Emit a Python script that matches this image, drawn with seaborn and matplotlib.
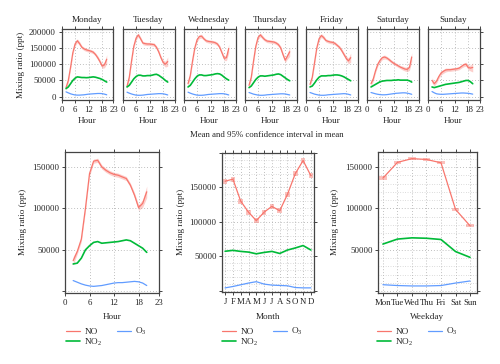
import numpy as np
import pandas as pd
import matplotlib
matplotlib.use("Agg")
import matplotlib.pyplot as plt
import seaborn as sns
from matplotlib.lines import Line2D
from matplotlib.ticker import MultipleLocator

# ---------------- data ----------------
hours = list(range(2, 21))
day_names = ["Monday", "Tuesday", "Wednesday", "Thursday", "Friday", "Saturday", "Sunday"]

no_mon = [28000, 50000, 90000, 135000, 162000, 172000, 163000, 152000, 147000, 144000, 142000, 140000, 137000, 130000, 120000, 108000, 94000, 98000, 115000]
no_tue = [32000, 60000, 110000, 155000, 180000, 190000, 178000, 165000, 163000, 162000, 162000, 161000, 160000, 152000, 138000, 120000, 105000, 100000, 108000]
no_wed = [40000, 65000, 110000, 150000, 175000, 185000, 186000, 178000, 172000, 170000, 169000, 168000, 166000, 162000, 152000, 135000, 118000, 120000, 148000]
no_thu = [35000, 60000, 110000, 155000, 182000, 190000, 182000, 175000, 171000, 170000, 169000, 168000, 165000, 160000, 150000, 130000, 112000, 125000, 138000]
no_fri = [38000, 60000, 105000, 150000, 178000, 188000, 182000, 173000, 170000, 168000, 167000, 164000, 158000, 152000, 142000, 130000, 118000, 110000, 120000]
no_sat = [40000, 55000, 80000, 100000, 112000, 120000, 122000, 119000, 114000, 108000, 103000, 99000, 95000, 91000, 88000, 85000, 84000, 90000, 122000]
no_sun = [50000, 40000, 48000, 62000, 73000, 78000, 82000, 83000, 83000, 84000, 85000, 86000, 88000, 93000, 98000, 100000, 90000, 88000, 90000]

no2_mon = [25000, 30000, 40000, 50000, 57000, 61000, 60000, 59000, 59000, 58500, 59000, 60000, 61000, 60000, 58000, 56000, 53000, 49000, 45000]
no2_tue = [30000, 35000, 45000, 55000, 62000, 66000, 66000, 64000, 64000, 65000, 65000, 66000, 68000, 69000, 66000, 61000, 56000, 50000, 45000]
no2_wed = [30000, 35000, 45000, 55000, 63000, 67000, 67000, 65000, 65000, 66000, 67000, 68000, 70000, 71000, 70000, 66000, 60000, 55000, 51000]
no2_thu = [28000, 33000, 43000, 53000, 60000, 64000, 64000, 63000, 64000, 65000, 66000, 67000, 69000, 70000, 68000, 63000, 58000, 53000, 49000]
no2_fri = [30000, 33000, 42000, 52000, 60000, 64000, 64000, 64000, 65000, 65000, 66000, 67000, 67000, 66000, 64000, 61000, 57000, 53000, 49000]
no2_sat = [30000, 34000, 38000, 42000, 46000, 48000, 49000, 50000, 50000, 50000, 51000, 51000, 52000, 51000, 51000, 51000, 51000, 49000, 45000]
no2_sun = [30000, 28000, 30000, 32000, 34000, 36000, 38000, 39000, 40000, 41000, 42000, 43000, 44000, 46000, 48000, 50000, 50000, 46000, 40000]

o3_mon = [15000, 12000, 9000, 7000, 5500, 5000, 5000, 5500, 6000, 7000, 8000, 8500, 9000, 9500, 10000, 10000, 9500, 8000, 6000]
o3_tue = [14000, 11000, 8500, 6500, 5000, 4500, 4500, 5000, 6000, 7000, 7500, 8000, 8500, 9000, 9500, 9500, 9000, 7500, 5500]
o3_wed = [14000, 11000, 8500, 6500, 5000, 4500, 4500, 5000, 6000, 7000, 7500, 8000, 8500, 9000, 9500, 9500, 9000, 7500, 5500]
o3_thu = [13000, 10500, 8000, 6500, 5000, 4500, 4500, 5000, 6000, 6500, 7000, 7500, 8000, 8500, 9000, 9000, 8500, 7000, 5500]
o3_fri = [13000, 10500, 8000, 6500, 5000, 4500, 4500, 5000, 6000, 6500, 7000, 7500, 8000, 8500, 9000, 9500, 9000, 7500, 5500]
o3_sat = [13000, 11000, 9000, 7500, 6500, 6000, 6000, 6500, 7500, 8500, 9500, 10500, 11000, 11500, 12000, 12000, 11000, 9500, 7500]
o3_sun = [16000, 12000, 9000, 8000, 7500, 7500, 8000, 8500, 9000, 9500, 10000, 10500, 11000, 11500, 11500, 11000, 10500, 9500, 8000]

no_ci_day = [8000, 7000, 6000, 6000, 6000, 6000, 6000, 5000, 5000, 5000, 5000, 5000, 5000, 5000, 6000, 6000, 7000, 9000, 14000]

# overall diurnal
no_hour = [37000, 48000, 63000, 100000, 142000, 157000, 158000, 150000, 146000, 143000, 141000, 140000, 138000, 136000, 128000, 116000, 101000, 106000, 120000]
no2_hour = [33000, 34000, 40000, 50000, 55000, 59000, 60000, 58000, 58500, 59000, 59500, 60000, 61000, 62000, 61000, 58000, 55000, 52000, 47000]
o3_hour = [13000, 11000, 9000, 7500, 6500, 6000, 6500, 7000, 8000, 9000, 10000, 10500, 10500, 11000, 11500, 12000, 11500, 10000, 7000]
no_ci_hour = [5000, 3000, 3000, 3000, 3000, 2500, 2500, 2500, 2500, 2500, 2500, 2500, 2500, 2500, 2500, 3000, 3500, 4500, 7000]

# monthly
months = list(range(1, 13))
month_labels = ["J", "F", "M", "A", "M", "J", "J", "A", "S", "O", "N", "D"]
no_month = [159000, 162000, 130000, 114000, 101700, 114000, 122500, 116000, 140000, 170000, 189000, 167000]
no2_month = [57200, 58500, 57000, 56000, 53500, 55500, 57000, 54000, 59000, 62000, 65500, 59000]
o3_month = [4000, 6000, 8500, 11000, 13000, 9500, 8000, 7500, 7000, 4500, 4000, 4000]
no_ci_month = [3600] * 12

# weekday
weekdays = list(range(1, 8))
weekday_labels = ["Mon", "Tue", "Wed", "Thu", "Fri", "Sat", "Sun"]
no_week = [136500, 155500, 160000, 159000, 155000, 98800, 79000]
no2_week = [57000, 63000, 64500, 64000, 62500, 48000, 41000]
o3_week = [8000, 7000, 6500, 6500, 7000, 10000, 12500]
no_ci_week = [2000] * 7

species = ["NO", "NO$_2$", "O$_3$"]

# ---------------- style ----------------
sns.set_style("ticks")
plt.rcParams['font.family'] = ['Liberation Serif', 'DejaVu Serif']
plt.rcParams['mathtext.fontset'] = 'custom'
plt.rcParams['mathtext.rm'] = 'Liberation Serif'
plt.rcParams['mathtext.it'] = 'Liberation Serif:italic'

C_NO, C_NO2, C_O3 = "#F8766D", "#00BA38", "#619CFF"
colors = [C_NO, C_NO2, C_O3]
widths = [0.9, 1.2, 0.9]
FS = 6.3
SPINE = "#444444"

W, H = 500, 364
fig = plt.figure(figsize=(5.0, 3.64), dpi=100)
fig.patch.set_facecolor("white")


def rect(l, t, r, b):
    return [l / W, 1 - b / H, (r - l) / W, (b - t) / H]


def style_ax(ax):
    for s in ax.spines.values():
        s.set_color(SPINE)
        s.set_linewidth(0.9)
    ax.tick_params(direction="out", length=2.5, width=0.7, colors=SPINE,
                   labelcolor="#222222", labelsize=FS, pad=1.5)


def draw_lines(ax, x, series):
    for vals, c, lw in zip(series, colors, widths):
        df = pd.DataFrame({"x": x, "y": vals})
        sns.lineplot(data=df, x="x", y="y", color=c, linewidth=lw, ax=ax, legend=False)
    ax.set_xlabel("")
    ax.set_ylabel("")


# ---------------- top panels ----------------
day_no = [no_mon, no_tue, no_wed, no_thu, no_fri, no_sat, no_sun]
day_no2 = [no2_mon, no2_tue, no2_wed, no2_thu, no2_fri, no2_sat, no2_sun]
day_o3 = [o3_mon, o3_tue, o3_wed, o3_thu, o3_fri, o3_sat, o3_sun]
lefts = [61.5, 122.5, 183.5, 244.5, 305.5, 366.5, 427.5]
pw = 52
for i, name in enumerate(day_names):
    l = lefts[i]
    ax = fig.add_axes(rect(l, 29, l + pw, 100))
    lo = np.array(day_no[i]) - np.array(no_ci_day)
    hi = np.array(day_no[i]) + np.array(no_ci_day)
    ax.fill_between(hours, lo, hi, color=C_NO, alpha=0.35, lw=0)
    draw_lines(ax, hours, [day_no[i], day_no2[i], day_o3[i]])
    ax.set_xlim(0, 23)
    ax.set_ylim(-10000, 208000)
    ax.set_xticks([0, 6, 12, 18, 23])
    ax.set_yticks([0, 50000, 100000, 150000, 200000])
    ax.grid(True, ls=(0, (1, 2.5)), color="#aaaaaa", lw=0.6)
    style_ax(ax)
    ax.tick_params(top=True, labeltop=False, bottom=True)
    if i == 0:
        ax.tick_params(left=True, labelleft=True, right=False)
    elif i == 6:
        ax.tick_params(left=False, labelleft=False, right=True, labelright=False)
    else:
        ax.tick_params(left=False, labelleft=False, right=False)
    fig.text((l + pw / 2) / W, 1 - 20 / H, name, ha="center", va="center", fontsize=6.6)
    fig.text((l + pw / 2) / W, 1 - 121 / H, "Hour", ha="center", va="center", fontsize=6.6)

fig.text(21 / W, 1 - 65 / H, "Mixing ratio (ppt)", rotation=90, ha="center", va="center", fontsize=6.6)
fig.text(267 / W, 1 - 135 / H, "Mean and 95% confidence interval in mean", ha="center", va="center", fontsize=6.3)

# ---------------- bottom panels ----------------
def legend_for(ax, x_px):
    handles = [Line2D([], [], color=c, lw=lw) for c, lw in zip(colors, widths)]
    ax.legend(handles, species, loc="upper left", bbox_to_anchor=(x_px / W, 1 - 326 / H),
              bbox_transform=fig.transFigure, ncol=2, frameon=False, fontsize=6.6,
              handlelength=1.5, handletextpad=0.5, columnspacing=1.6, labelspacing=0.05,
              borderpad=0, borderaxespad=0)

# hour panel
ax = fig.add_axes(rect(65, 152, 159, 293))
lo = np.array(no_hour) - np.array(no_ci_hour)
hi = np.array(no_hour) + np.array(no_ci_hour)
ax.fill_between(hours, lo, hi, color=C_NO, alpha=0.35, lw=0)
draw_lines(ax, hours, [no_hour, no2_hour, o3_hour])
ax.set_xlim(0, 23)
ax.set_ylim(-2000, 168000)
ax.set_xticks([0, 6, 12, 18, 23])
ax.set_yticks([0, 50000, 100000, 150000])
ax.set_yticklabels(["", "50000", "100000", "150000"])
ax.grid(True, ls=(0, (1, 2.5)), color="#aaaaaa", lw=0.6)
style_ax(ax)
ax.tick_params(top=True, right=True, labeltop=False, labelright=False)
legend_for(ax, 66)
fig.text(112 / W, 1 - 317 / H, "Hour", ha="center", va="center", fontsize=6.6)
fig.text(23 / W, 1 - 222 / H, "Mixing ratio (ppt)", rotation=90, ha="center", va="center", fontsize=6.6)

# month panel
ax = fig.add_axes(rect(222, 153, 314, 292))
ax.bar(months, [2 * c for c in no_ci_month], bottom=[v - c for v, c in zip(no_month, no_ci_month)],
       width=0.6, color=C_NO, alpha=0.45, lw=0)
draw_lines(ax, months, [no_month, no2_month, o3_month])
ax.set_xlim(0.6, 12.4)
ax.set_ylim(-2000, 199000)
ax.set_xticks(months)
ax.set_xticklabels(month_labels)
ax.set_yticks([0, 50000, 100000, 150000, 200000])
ax.set_yticklabels(["", "50000", "100000", "150000", ""])
ax.yaxis.set_minor_locator(MultipleLocator(10000))
ax.grid(True, which="major", ls=(0, (1, 2.5)), color="#aaaaaa", lw=0.6)
ax.grid(True, which="minor", axis="y", ls=(0, (1, 2.5)), color="#bbbbbb", lw=0.5)
style_ax(ax)
ax.tick_params(which="minor", left=False, right=False)
ax.tick_params(top=True, right=True, labeltop=False, labelright=False)
legend_for(ax, 222)
fig.text(268 / W, 1 - 317 / H, "Month", ha="center", va="center", fontsize=6.6)
fig.text(181 / W, 1 - 222 / H, "Mixing ratio (ppt)", rotation=90, ha="center", va="center", fontsize=6.6)

# weekday panel
ax = fig.add_axes(rect(378, 152, 477, 293))
ax.bar(weekdays, [2 * c for c in no_ci_week], bottom=[v - c for v, c in zip(no_week, no_ci_week)],
       width=0.5, color=C_NO, alpha=0.45, lw=0)
draw_lines(ax, weekdays, [no_week, no2_week, o3_week])
ax.set_xlim(0.66, 7.48)
ax.set_ylim(-2000, 168000)
ax.set_xticks(weekdays)
ax.set_xticklabels(weekday_labels)
ax.set_yticks([0, 50000, 100000, 150000])
ax.set_yticklabels(["", "50000", "100000", "150000"])
ax.yaxis.set_minor_locator(MultipleLocator(10000))
ax.grid(True, which="major", ls=(0, (1, 2.5)), color="#aaaaaa", lw=0.6)
ax.grid(True, which="minor", axis="y", ls=(0, (1, 2.5)), color="#bbbbbb", lw=0.5)
style_ax(ax)
ax.tick_params(which="minor", left=False, right=False)
ax.tick_params(top=True, right=True, labeltop=False, labelright=False)
legend_for(ax, 377)
fig.text(427 / W, 1 - 317 / H, "Weekday", ha="center", va="center", fontsize=6.6)
fig.text(335 / W, 1 - 222 / H, "Mixing ratio (ppt)", rotation=90, ha="center", va="center", fontsize=6.6)

fig.savefig("out.png", dpi=100, facecolor="white")
